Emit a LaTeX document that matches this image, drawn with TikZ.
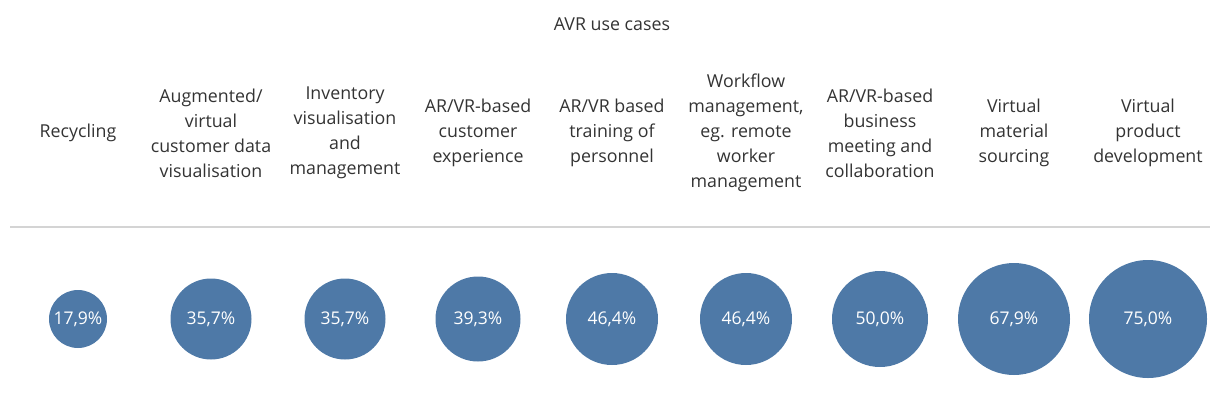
\documentclass[tikz,border=0pt]{standalone}
\usepackage{fontspec}
\setmainfont{Open Sans}
\definecolor{txt}{HTML}{333333}
\definecolor{bubblecol}{HTML}{4E79A7}
\definecolor{rule}{HTML}{D4D4D4}
\begin{document}
\begin{tikzpicture}[x=1pt,y=-1pt,
  lab/.style={align=center, text=txt, font=\fontsize{17.8}{25}\selectfont, inner sep=0pt},
  bubble/.style={circle, fill=bubblecol, draw=none, inner sep=0pt},
  pct/.style={text=white, font=\fontsize{17.5}{20}\selectfont, inner sep=0pt}]
\useasboundingbox (0,0) rectangle (1210,405);
\node[lab] (title) at (612,24) {AVR use cases};
\node[lab] (l1) at (78,133) {Recycling};
\node[lab] (l2) at (211,133) {Augmented/\\virtual\\customer data\\visualisation};
\node[lab] (l3) at (345,133) {Inventory\\visualisation\\and\\management};
\node[lab] (l4) at (478,133) {AR/VR-based\\customer\\experience};
\node[lab] (l5) at (612,133) {AR/VR based\\training of\\personnel};
\node[lab] (l6) at (746,133) {Workflow\\management,\\eg. remote\\worker\\management};
\node[lab] (l7) at (880,133) {AR/VR-based\\business\\meeting and\\collaboration};
\node[lab] (l8) at (1014,133) {Virtual\\material\\sourcing};
\node[lab] (l9) at (1148,133) {Virtual\\product\\development};
\coordinate (ra) at (10,227);
\coordinate (rb) at (1210,227);
\draw[rule, line width=1.5pt] (ra) -- (rb);
\node[bubble, minimum size=58pt] (c1) at (78,319) {};
\node[bubble, minimum size=81pt] (c2) at (211,319) {};
\node[bubble, minimum size=81pt] (c3) at (345,319) {};
\node[bubble, minimum size=85pt] (c4) at (478,319) {};
\node[bubble, minimum size=92pt] (c5) at (612,319) {};
\node[bubble, minimum size=92pt] (c6) at (746,319) {};
\node[bubble, minimum size=96pt] (c7) at (880,319) {};
\node[bubble, minimum size=112pt] (c8) at (1014,319) {};
\node[bubble, minimum size=118pt] (c9) at (1148,319) {};
\node[pct] (p1) at (c1) {17,9\%};
\node[pct] (p2) at (c2) {35,7\%};
\node[pct] (p3) at (c3) {35,7\%};
\node[pct] (p4) at (c4) {39,3\%};
\node[pct] (p5) at (c5) {46,4\%};
\node[pct] (p6) at (c6) {46,4\%};
\node[pct] (p7) at (c7) {50,0\%};
\node[pct] (p8) at (c8) {67,9\%};
\node[pct] (p9) at (c9) {75,0\%};
\end{tikzpicture}
\end{document}
